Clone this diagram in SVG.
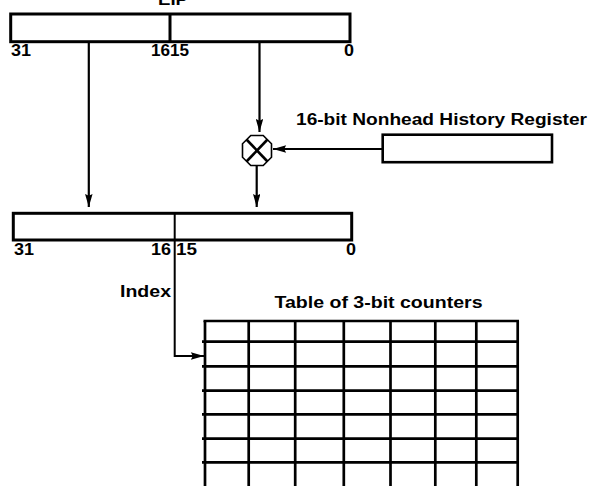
<svg xmlns="http://www.w3.org/2000/svg" width="591" height="486" viewBox="0 0 591 486">
<defs>
<style>
text{font-family:"Liberation Sans",Arial,Helvetica,sans-serif;font-weight:bold;font-size:16px;fill:#000}
.box{fill:#fff;stroke:#000;stroke-width:3}
.thin{stroke:#000;stroke-width:2;fill:none}
.grid{stroke:#000;stroke-width:2.7;fill:none}
.conn{stroke:#000;stroke-width:2.2;fill:none}
</style>
<marker id="arr" viewBox="0 0 14 8" refX="14" refY="4" markerWidth="14" markerHeight="7.5" orient="auto" markerUnits="userSpaceOnUse">
<path d="M0,0 L14,4 L0,8 L2,4 z" fill="#000"/>
</marker>
</defs>
<rect width="591" height="486" fill="#fff"/>

<g id="reg_eip">
<text x="158" y="5" textLength="30" lengthAdjust="spacingAndGlyphs">EIP</text>
<rect class="box" x="10.7" y="14" width="339.3" height="27.7"/>
<line x1="170" y1="14" x2="170" y2="41.7" stroke="#000" stroke-width="3"/>
<text x="11" y="56" textLength="20" lengthAdjust="spacingAndGlyphs">31</text>
<text x="151" y="56" textLength="19" lengthAdjust="spacingAndGlyphs">16</text>
<text x="170" y="56" textLength="19" lengthAdjust="spacingAndGlyphs">15</text>
<text x="344" y="56" textLength="10" lengthAdjust="spacingAndGlyphs">0</text>
</g>

<g id="nhr">
<text x="296" y="125" textLength="291" lengthAdjust="spacingAndGlyphs">16-bit Nonhead History Register</text>
<rect x="382.7" y="134.7" width="169.3" height="27.5" fill="#fff" stroke="#000" stroke-width="2.6"/>
</g>

<g id="xor">
<polygon points="263.2,135.5 271.5,143.8 271.5,157.2 263.2,165.5 250.8,165.5 242.5,157.2 242.5,143.8 250.8,135.5" fill="#fff" stroke="#000" stroke-width="1.6"/>
<line x1="246.5" y1="139.5" x2="267.5" y2="161.5" stroke="#000" stroke-width="2.6"/>
<line x1="267.5" y1="139.5" x2="246.5" y2="161.5" stroke="#000" stroke-width="2.6"/>
</g>

<g id="reg_index">
<rect class="box" x="13.3" y="213.3" width="338.4" height="26.7"/>
<line x1="174.7" y1="213.3" x2="174.7" y2="240" class="thin"/>
<text x="14" y="255" textLength="20" lengthAdjust="spacingAndGlyphs">31</text>
<text x="151" y="255" textLength="20" lengthAdjust="spacingAndGlyphs">16</text>
<text x="176" y="255" textLength="21" lengthAdjust="spacingAndGlyphs">15</text>
<text x="346" y="255" textLength="10" lengthAdjust="spacingAndGlyphs">0</text>
</g>

<g id="table">
<text x="274.5" y="308" textLength="208" lengthAdjust="spacingAndGlyphs">Table of 3-bit counters</text>
<g class="grid">
<line x1="203.5" y1="321" x2="519" y2="321"/>
<line x1="202" y1="341.7" x2="519" y2="341.7"/>
<line x1="202" y1="366.3" x2="519" y2="366.3"/>
<line x1="202" y1="390.7" x2="519" y2="390.7"/>
<line x1="202" y1="414.3" x2="519" y2="414.3"/>
<line x1="202" y1="438.7" x2="519" y2="438.7"/>
<line x1="202" y1="462.3" x2="519" y2="462.3"/>
<line x1="205" y1="321" x2="205" y2="486"/>
<line x1="248.7" y1="321" x2="248.7" y2="486"/>
<line x1="295.2" y1="321" x2="295.2" y2="486"/>
<line x1="343.8" y1="321" x2="343.8" y2="486"/>
<line x1="390.5" y1="321" x2="390.5" y2="486"/>
<line x1="435.3" y1="321" x2="435.3" y2="486"/>
<line x1="476.3" y1="321" x2="476.3" y2="486"/>
<line x1="517.7" y1="321" x2="517.7" y2="486"/>
</g>
</g>

<g id="connectors">
<line class="conn" x1="88.8" y1="43" x2="88.8" y2="207" marker-end="url(#arr)"/>
<line class="conn" x1="259.5" y1="43" x2="259.5" y2="132" marker-end="url(#arr)"/>
<line class="conn" x1="256.7" y1="166" x2="256.7" y2="207" marker-end="url(#arr)"/>
<line class="conn" x1="382.7" y1="149" x2="273" y2="149" marker-end="url(#arr)"/>
<path class="thin" d="M174.7,240 V356 H204" marker-end="url(#arr)"/>
<text x="120" y="297" textLength="51" lengthAdjust="spacingAndGlyphs">Index</text>
</g>
</svg>
